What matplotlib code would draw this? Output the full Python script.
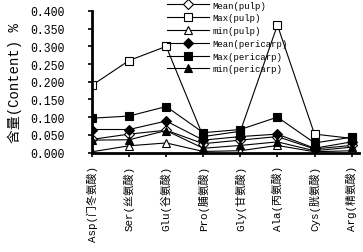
import numpy as np
import matplotlib
matplotlib.use("Agg")
import matplotlib.pyplot as plt

plt.rcParams['font.family'] = ['Liberation Mono', 'Noto Sans CJK SC']

categories = ["Asp(门冬氨酸)", "Ser(丝氨酸)", "Glu(谷氨酸)", "Pro(脯氨酸)",
              "Gly(甘氨酸)", "Ala(丙氨酸)", "Cys(胱氨酸)", "Arg(精氨酸)"]

mean_pulp = [0.037, 0.052, 0.063, 0.025, 0.035, 0.045, 0.010, 0.020]
max_pulp = [0.190, 0.260, 0.300, 0.045, 0.060, 0.360, 0.052, 0.040]
min_pulp = [0.002, 0.019, 0.027, 0.003, 0.005, 0.020, 0.002, 0.005]
mean_peri = [0.065, 0.065, 0.089, 0.035, 0.045, 0.052, 0.012, 0.030]
max_peri = [0.097, 0.103, 0.130, 0.056, 0.065, 0.100, 0.027, 0.043]
min_peri = [0.035, 0.036, 0.062, 0.012, 0.020, 0.030, 0.005, 0.015]

series = [
    ("Mean(pulp)", mean_pulp, "D", "white"),
    ("Max(pulp)", max_pulp, "s", "white"),
    ("min(pulp)", min_pulp, "^", "white"),
    ("Mean(pericarp)", mean_peri, "D", "black"),
    ("Max(pericarp)", max_peri, "s", "black"),
    ("min(pericarp)", min_peri, "^", "black"),
]

fig = plt.figure(figsize=(3.63, 2.53), dpi=100)
ax = fig.add_axes([92 / 363, 99.5 / 253, 267 / 363, 141.5 / 253])

x = np.arange(len(categories))
for name, vals, m, fc in series:
    ms = 5.2 if m == "D" else 6.2
    ax.plot(x, vals, color="black", lw=0.8, marker=m, markersize=ms,
            markerfacecolor=fc, markeredgecolor="black", markeredgewidth=0.8,
            label=name)

ax.set_xlim(0, 7.2)
ax.set_ylim(0, 0.4)
ax.set_yticks(np.arange(0, 0.401, 0.05))
ax.set_yticklabels(["%.3f" % v for v in np.arange(0, 0.401, 0.05)], fontsize=8.3)
ax.set_xticks(x)
ax.set_xticklabels(categories, rotation=90, fontsize=7.8)

for s in ["top", "right"]:
    ax.spines[s].set_visible(False)
ax.spines["left"].set_linewidth(2)
ax.spines["bottom"].set_linewidth(2)
ax.tick_params(axis="y", direction="out", length=3, width=1.2, pad=17)
ax.tick_params(axis="x", direction="out", length=3, width=1.2, pad=6)

ax.set_ylabel("含量(Content) %", fontsize=10, labelpad=6)

fig.legend(loc="upper left", bbox_to_anchor=(167 / 363, 1 - 1.5 / 253),
           frameon=False, fontsize=6.5, handlelength=4.6, labelspacing=0.42,
           borderpad=0, borderaxespad=0, handletextpad=0.45)

fig.savefig("out.png", dpi=100)
